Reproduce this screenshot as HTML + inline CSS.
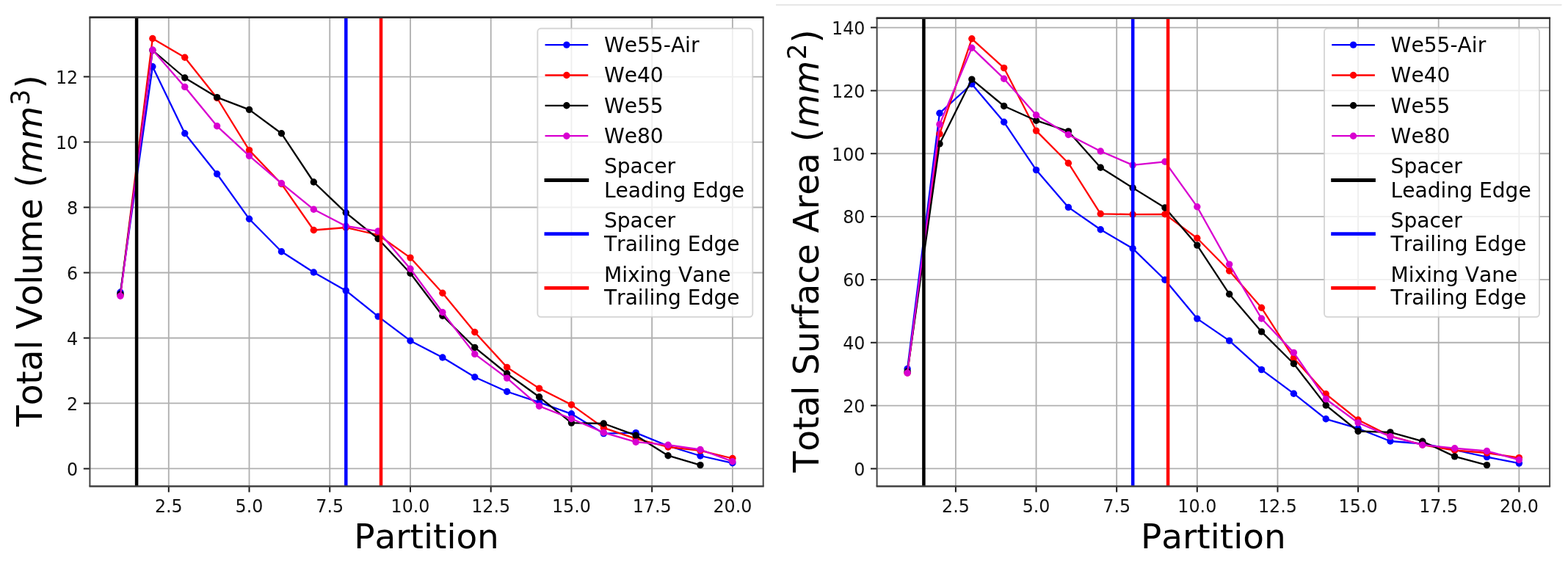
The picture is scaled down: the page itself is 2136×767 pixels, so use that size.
<!DOCTYPE html>
<html lang="en">
<head>
<meta charset="utf-8">
<title>Total Volume and Total Surface Area vs Partition</title>
<style>
html,body{margin:0;padding:0;background:#fff;}
body{width:2136px;height:767px;overflow:hidden;}
svg{display:block;}
text{font-family:"DejaVu Sans", "Liberation Sans", sans-serif;font-kerning:none;font-variant-ligatures:none;}
</style>
</head>
<body>
<svg width="2136" height="767" viewBox="0 0 2136 767" font-family='"DejaVu Sans", "Liberation Sans", sans-serif' role="img" aria-label="Total volume and total surface area versus partition">
<rect width="2136" height="767" fill="#ffffff"/>
<g>
<line x1="1057" y1="6.6" x2="2127.5" y2="6.6" stroke="#e2e2e2" stroke-width="1.6"/>
<clipPath id="clip1"><rect x="122.4" y="23.7" width="917.3" height="638.8"/></clipPath>
<path d="M229.8 23.7V662.5M339.52 23.7V662.5M449.25 23.7V662.5M558.98 23.7V662.5M668.7 23.7V662.5M778.42 23.7V662.5M888.15 23.7V662.5M997.88 23.7V662.5M122.4 638.4H1039.7M122.4 549.43H1039.7M122.4 460.46H1039.7M122.4 371.49H1039.7M122.4 282.52H1039.7M122.4 193.55H1039.7M122.4 104.58H1039.7" fill="none" stroke="#b0b0b0" stroke-width="1.85"/>
<g clip-path="url(#clip1)">
<polyline points="163.97,398.3 207.86,90.8 251.75,181.8 295.63,237 339.52,298.3 383.42,342.7 427.31,371 471.2,395.9 515.09,431.1 558.98,464.2 602.87,487 646.75,513.7 690.64,533.5 734.54,548.1 778.42,563.8 822.32,590.6 866.2,589.6 910.1,607.5 953.99,621 997.88,630.8" fill="none" stroke="#0000ff" stroke-width="2.3" stroke-linejoin="round"/>
<g fill="#0000ff"><circle cx="163.97" cy="398.3" r="4.7"/><circle cx="207.86" cy="90.8" r="4.7"/><circle cx="251.75" cy="181.8" r="4.7"/><circle cx="295.63" cy="237" r="4.7"/><circle cx="339.52" cy="298.3" r="4.7"/><circle cx="383.42" cy="342.7" r="4.7"/><circle cx="427.31" cy="371" r="4.7"/><circle cx="471.2" cy="395.9" r="4.7"/><circle cx="515.09" cy="431.1" r="4.7"/><circle cx="558.98" cy="464.2" r="4.7"/><circle cx="602.87" cy="487" r="4.7"/><circle cx="646.75" cy="513.7" r="4.7"/><circle cx="690.64" cy="533.5" r="4.7"/><circle cx="734.54" cy="548.1" r="4.7"/><circle cx="778.42" cy="563.8" r="4.7"/><circle cx="822.32" cy="590.6" r="4.7"/><circle cx="866.2" cy="589.6" r="4.7"/><circle cx="910.1" cy="607.5" r="4.7"/><circle cx="953.99" cy="621" r="4.7"/><circle cx="997.88" cy="630.8" r="4.7"/></g>
<polyline points="163.97,401.8 207.86,52.5 251.75,78.2 295.63,133.5 339.52,204.6 383.42,250.5 427.31,313.5 471.2,310 515.09,320 558.98,351.1 602.87,399.3 646.75,452.5 690.64,500.4 734.54,529.1 778.42,551.4 822.32,582.9 866.2,597.7 910.1,609 953.99,613.9 997.88,624.5" fill="none" stroke="#ff0000" stroke-width="2.3" stroke-linejoin="round"/>
<g fill="#ff0000"><circle cx="163.97" cy="401.8" r="4.7"/><circle cx="207.86" cy="52.5" r="4.7"/><circle cx="251.75" cy="78.2" r="4.7"/><circle cx="295.63" cy="133.5" r="4.7"/><circle cx="339.52" cy="204.6" r="4.7"/><circle cx="383.42" cy="250.5" r="4.7"/><circle cx="427.31" cy="313.5" r="4.7"/><circle cx="471.2" cy="310" r="4.7"/><circle cx="515.09" cy="320" r="4.7"/><circle cx="558.98" cy="351.1" r="4.7"/><circle cx="602.87" cy="399.3" r="4.7"/><circle cx="646.75" cy="452.5" r="4.7"/><circle cx="690.64" cy="500.4" r="4.7"/><circle cx="734.54" cy="529.1" r="4.7"/><circle cx="778.42" cy="551.4" r="4.7"/><circle cx="822.32" cy="582.9" r="4.7"/><circle cx="866.2" cy="597.7" r="4.7"/><circle cx="910.1" cy="609" r="4.7"/><circle cx="953.99" cy="613.9" r="4.7"/><circle cx="997.88" cy="624.5" r="4.7"/></g>
<polyline points="163.97,400.6 207.86,68.5 251.75,106 295.63,132.6 339.52,149.4 383.42,181.8 427.31,248 471.2,289.8 515.09,325.3 558.98,372.2 602.87,430.2 646.75,473.4 690.64,509 734.54,540.8 778.42,576.1 822.32,577 866.2,593.2 910.1,620.7 953.99,633.6" fill="none" stroke="#000000" stroke-width="2.3" stroke-linejoin="round"/>
<g fill="#000000"><circle cx="163.97" cy="400.6" r="4.7"/><circle cx="207.86" cy="68.5" r="4.7"/><circle cx="251.75" cy="106" r="4.7"/><circle cx="295.63" cy="132.6" r="4.7"/><circle cx="339.52" cy="149.4" r="4.7"/><circle cx="383.42" cy="181.8" r="4.7"/><circle cx="427.31" cy="248" r="4.7"/><circle cx="471.2" cy="289.8" r="4.7"/><circle cx="515.09" cy="325.3" r="4.7"/><circle cx="558.98" cy="372.2" r="4.7"/><circle cx="602.87" cy="430.2" r="4.7"/><circle cx="646.75" cy="473.4" r="4.7"/><circle cx="690.64" cy="509" r="4.7"/><circle cx="734.54" cy="540.8" r="4.7"/><circle cx="778.42" cy="576.1" r="4.7"/><circle cx="822.32" cy="577" r="4.7"/><circle cx="866.2" cy="593.2" r="4.7"/><circle cx="910.1" cy="620.7" r="4.7"/><circle cx="953.99" cy="633.6" r="4.7"/></g>
<polyline points="163.97,403.2 207.86,68 251.75,118.4 295.63,171.8 339.52,212.4 383.42,249.7 427.31,285.3 471.2,308 515.09,314.9 558.98,366.3 602.87,425.5 646.75,482.4 690.64,515.1 734.54,553.3 778.42,570.5 822.32,589.3 866.2,602.2 910.1,606.2 953.99,612.5 997.88,628.7" fill="none" stroke="#d800d0" stroke-width="2.3" stroke-linejoin="round"/>
<g fill="#d800d0"><circle cx="163.97" cy="403.2" r="4.7"/><circle cx="207.86" cy="68" r="4.7"/><circle cx="251.75" cy="118.4" r="4.7"/><circle cx="295.63" cy="171.8" r="4.7"/><circle cx="339.52" cy="212.4" r="4.7"/><circle cx="383.42" cy="249.7" r="4.7"/><circle cx="427.31" cy="285.3" r="4.7"/><circle cx="471.2" cy="308" r="4.7"/><circle cx="515.09" cy="314.9" r="4.7"/><circle cx="558.98" cy="366.3" r="4.7"/><circle cx="602.87" cy="425.5" r="4.7"/><circle cx="646.75" cy="482.4" r="4.7"/><circle cx="690.64" cy="515.1" r="4.7"/><circle cx="734.54" cy="553.3" r="4.7"/><circle cx="778.42" cy="570.5" r="4.7"/><circle cx="822.32" cy="589.3" r="4.7"/><circle cx="866.2" cy="602.2" r="4.7"/><circle cx="910.1" cy="606.2" r="4.7"/><circle cx="953.99" cy="612.5" r="4.7"/><circle cx="997.88" cy="628.7" r="4.7"/></g>
<line x1="186.1" y1="23.7" x2="186.1" y2="662.5" stroke="#000000" stroke-width="4.5"/>
<line x1="471.3" y1="23.7" x2="471.3" y2="662.5" stroke="#0000ff" stroke-width="4.5"/>
<line x1="519" y1="23.7" x2="519" y2="662.5" stroke="#ff0000" stroke-width="4.5"/>
</g>
<path d="M229.8 662.5v8M339.52 662.5v8M449.25 662.5v8M558.98 662.5v8M668.7 662.5v8M778.42 662.5v8M888.15 662.5v8M997.88 662.5v8M122.4 638.4h-8.6M122.4 549.43h-8.6M122.4 460.46h-8.6M122.4 371.49h-8.6M122.4 282.52h-8.6M122.4 193.55h-8.6M122.4 104.58h-8.6" fill="none" stroke="#1a1a1a" stroke-width="2.0"/>
<path d="M122.4 23.7V662.5M1039.7 23.7V662.5" fill="none" stroke="#444444" stroke-width="2.0"/>
<path d="M121.4 23.7H1040.7" fill="none" stroke="#2e2e2e" stroke-width="2.7"/>
<path d="M121.4 662.5H1040.7" fill="none" stroke="#404040" stroke-width="2.3"/>
<g font-size="24.7" fill="#111">
<text transform="translate(229.8 697.6) scale(0.963 1)" text-anchor="middle">2.5</text>
<text transform="translate(339.52 697.6) scale(0.963 1)" text-anchor="middle">5.0</text>
<text transform="translate(449.25 697.6) scale(0.963 1)" text-anchor="middle">7.5</text>
<text transform="translate(558.98 697.6) scale(0.963 1)" text-anchor="middle">10.0</text>
<text transform="translate(668.7 697.6) scale(0.963 1)" text-anchor="middle">12.5</text>
<text transform="translate(778.42 697.6) scale(0.963 1)" text-anchor="middle">15.0</text>
<text transform="translate(888.15 697.6) scale(0.963 1)" text-anchor="middle">17.5</text>
<text transform="translate(997.88 697.6) scale(0.963 1)" text-anchor="middle">20.0</text>
<text transform="translate(106.2 647.8) scale(0.963 1)" text-anchor="end">0</text>
<text transform="translate(106.2 558.83) scale(0.963 1)" text-anchor="end">2</text>
<text transform="translate(106.2 469.86) scale(0.963 1)" text-anchor="end">4</text>
<text transform="translate(106.2 380.89) scale(0.963 1)" text-anchor="end">6</text>
<text transform="translate(106.2 291.92) scale(0.963 1)" text-anchor="end">8</text>
<text transform="translate(106.2 202.95) scale(0.963 1)" text-anchor="end">10</text>
<text transform="translate(106.2 113.98) scale(0.963 1)" text-anchor="end">12</text>
</g>
<text transform="translate(581.05 746.6) scale(1.02 1)" text-anchor="middle" font-size="46">Partition</text>
<text transform="translate(56.5 581) rotate(-90) scale(1.0205 1.05)" font-size="46"><tspan x="0">Total Volume (</tspan><tspan x="337.78" font-style="italic">mm</tspan><tspan x="428.71" dy="-16" font-size="33.58">3</tspan><tspan x="451.15" dy="16">)</tspan></text>
<rect x="732.3" y="38.8" width="293" height="393" rx="4.5" fill="#ffffff" fill-opacity="0.8" stroke="#cccccc" stroke-opacity="0.8" stroke-width="1.9"/>
<line x1="742.5" y1="61.1" x2="801.2" y2="61.1" stroke="#0000ff" stroke-width="2.3"/>
<circle cx="771.85" cy="61.1" r="4.7" fill="#0000ff"/>
<line x1="742.5" y1="102.5" x2="801.2" y2="102.5" stroke="#ff0000" stroke-width="2.3"/>
<circle cx="771.85" cy="102.5" r="4.7" fill="#ff0000"/>
<line x1="742.5" y1="143.8" x2="801.2" y2="143.8" stroke="#000000" stroke-width="2.3"/>
<circle cx="771.85" cy="143.8" r="4.7" fill="#000000"/>
<line x1="742.5" y1="185.2" x2="801.2" y2="185.2" stroke="#d800d0" stroke-width="2.3"/>
<circle cx="771.85" cy="185.2" r="4.7" fill="#d800d0"/>
<line x1="741.5" y1="245.5" x2="802.2" y2="245.5" stroke="#000000" stroke-width="4.8"/>
<line x1="741.5" y1="318.6" x2="802.2" y2="318.6" stroke="#0000ff" stroke-width="4.8"/>
<line x1="741.5" y1="392.3" x2="802.2" y2="392.3" stroke="#ff0000" stroke-width="4.8"/>
<g font-size="28.4" fill="#000">
<text transform="translate(822.9 71) scale(0.99 1)">We55-Air</text>
<text transform="translate(822.9 112.4) scale(0.99 1)">We40</text>
<text transform="translate(822.9 153.7) scale(0.99 1)">We55</text>
<text transform="translate(822.9 195.1) scale(0.99 1)">We80</text>
<text transform="translate(822.9 236.2) scale(0.99 1)">Spacer</text>
<text transform="translate(822.9 268.8) scale(0.99 1)">Leading Edge</text>
<text transform="translate(822.9 310.4) scale(0.99 1)">Spacer</text>
<text transform="translate(822.9 342.3) scale(0.99 1)">Trailing Edge</text>
<text transform="translate(822.9 383.8) scale(0.99 1)">Mixing Vane</text>
<text transform="translate(822.9 414.9) scale(0.99 1)">Trailing Edge</text>
</g>
<clipPath id="clip2"><rect x="1194.6" y="24.6" width="916.5" height="637.9"/></clipPath>
<path d="M1301.9 24.6V662.5M1411.54 24.6V662.5M1521.17 24.6V662.5M1630.81 24.6V662.5M1740.44 24.6V662.5M1850.08 24.6V662.5M1959.71 24.6V662.5M2069.35 24.6V662.5M1194.6 638.4H2111.1M1194.6 552.57H2111.1M1194.6 466.74H2111.1M1194.6 380.92H2111.1M1194.6 295.09H2111.1M1194.6 209.26H2111.1M1194.6 123.43H2111.1M1194.6 37.6H2111.1" fill="none" stroke="#b0b0b0" stroke-width="1.85"/>
<g clip-path="url(#clip2)">
<polyline points="1236.12,502.5 1279.97,154.2 1323.83,114.5 1367.68,166.3 1411.54,231.6 1455.39,282.4 1499.24,312.7 1543.1,338.6 1586.95,381.3 1630.81,434.1 1674.66,464.1 1718.51,503.6 1762.37,536.2 1806.22,570.8 1850.08,583.7 1893.93,601 1937.78,604.5 1981.64,613 2025.49,622.6 2069.35,631.1" fill="none" stroke="#0000ff" stroke-width="2.3" stroke-linejoin="round"/>
<g fill="#0000ff"><circle cx="1236.12" cy="502.5" r="4.7"/><circle cx="1279.97" cy="154.2" r="4.7"/><circle cx="1323.83" cy="114.5" r="4.7"/><circle cx="1367.68" cy="166.3" r="4.7"/><circle cx="1411.54" cy="231.6" r="4.7"/><circle cx="1455.39" cy="282.4" r="4.7"/><circle cx="1499.24" cy="312.7" r="4.7"/><circle cx="1543.1" cy="338.6" r="4.7"/><circle cx="1586.95" cy="381.3" r="4.7"/><circle cx="1630.81" cy="434.1" r="4.7"/><circle cx="1674.66" cy="464.1" r="4.7"/><circle cx="1718.51" cy="503.6" r="4.7"/><circle cx="1762.37" cy="536.2" r="4.7"/><circle cx="1806.22" cy="570.8" r="4.7"/><circle cx="1850.08" cy="583.7" r="4.7"/><circle cx="1893.93" cy="601" r="4.7"/><circle cx="1937.78" cy="604.5" r="4.7"/><circle cx="1981.64" cy="613" r="4.7"/><circle cx="2025.49" cy="622.6" r="4.7"/><circle cx="2069.35" cy="631.1" r="4.7"/></g>
<polyline points="1236.12,508 1279.97,182.4 1323.83,52.8 1367.68,92.6 1411.54,178.1 1455.39,222.2 1499.24,291.3 1543.1,292.1 1586.95,291.8 1630.81,324.5 1674.66,369 1718.51,419.3 1762.37,487.7 1806.22,536.8 1850.08,572 1893.93,594 1937.78,606 1981.64,613.5 2025.49,617 2069.35,623.6" fill="none" stroke="#ff0000" stroke-width="2.3" stroke-linejoin="round"/>
<g fill="#ff0000"><circle cx="1236.12" cy="508" r="4.7"/><circle cx="1279.97" cy="182.4" r="4.7"/><circle cx="1323.83" cy="52.8" r="4.7"/><circle cx="1367.68" cy="92.6" r="4.7"/><circle cx="1411.54" cy="178.1" r="4.7"/><circle cx="1455.39" cy="222.2" r="4.7"/><circle cx="1499.24" cy="291.3" r="4.7"/><circle cx="1543.1" cy="292.1" r="4.7"/><circle cx="1586.95" cy="291.8" r="4.7"/><circle cx="1630.81" cy="324.5" r="4.7"/><circle cx="1674.66" cy="369" r="4.7"/><circle cx="1718.51" cy="419.3" r="4.7"/><circle cx="1762.37" cy="487.7" r="4.7"/><circle cx="1806.22" cy="536.8" r="4.7"/><circle cx="1850.08" cy="572" r="4.7"/><circle cx="1893.93" cy="594" r="4.7"/><circle cx="1937.78" cy="606" r="4.7"/><circle cx="1981.64" cy="613.5" r="4.7"/><circle cx="2025.49" cy="617" r="4.7"/><circle cx="2069.35" cy="623.6" r="4.7"/></g>
<polyline points="1236.12,506 1279.97,195.9 1323.83,108.1 1367.68,144.5 1411.54,164.2 1455.39,178.9 1499.24,228.2 1543.1,255.9 1586.95,283 1630.81,334.1 1674.66,400.7 1718.51,451.9 1762.37,495.5 1806.22,552.1 1850.08,587.5 1893.93,588.9 1937.78,601.2 1981.64,621.9 2025.49,633.6" fill="none" stroke="#000000" stroke-width="2.3" stroke-linejoin="round"/>
<g fill="#000000"><circle cx="1236.12" cy="506" r="4.7"/><circle cx="1279.97" cy="195.9" r="4.7"/><circle cx="1323.83" cy="108.1" r="4.7"/><circle cx="1367.68" cy="144.5" r="4.7"/><circle cx="1411.54" cy="164.2" r="4.7"/><circle cx="1455.39" cy="178.9" r="4.7"/><circle cx="1499.24" cy="228.2" r="4.7"/><circle cx="1543.1" cy="255.9" r="4.7"/><circle cx="1586.95" cy="283" r="4.7"/><circle cx="1630.81" cy="334.1" r="4.7"/><circle cx="1674.66" cy="400.7" r="4.7"/><circle cx="1718.51" cy="451.9" r="4.7"/><circle cx="1762.37" cy="495.5" r="4.7"/><circle cx="1806.22" cy="552.1" r="4.7"/><circle cx="1850.08" cy="587.5" r="4.7"/><circle cx="1893.93" cy="588.9" r="4.7"/><circle cx="1937.78" cy="601.2" r="4.7"/><circle cx="1981.64" cy="621.9" r="4.7"/><circle cx="2025.49" cy="633.6" r="4.7"/></g>
<polyline points="1236.12,508.1 1279.97,169.4 1323.83,65.2 1367.68,107.2 1411.54,156.7 1455.39,183.5 1499.24,206 1543.1,224.9 1586.95,220.3 1630.81,281.7 1674.66,360.1 1718.51,434 1762.37,480.4 1806.22,543.7 1850.08,576 1893.93,594.6 1937.78,606.1 1981.64,610.7 2025.49,614.5 2069.35,626.5" fill="none" stroke="#d800d0" stroke-width="2.3" stroke-linejoin="round"/>
<g fill="#d800d0"><circle cx="1236.12" cy="508.1" r="4.7"/><circle cx="1279.97" cy="169.4" r="4.7"/><circle cx="1323.83" cy="65.2" r="4.7"/><circle cx="1367.68" cy="107.2" r="4.7"/><circle cx="1411.54" cy="156.7" r="4.7"/><circle cx="1455.39" cy="183.5" r="4.7"/><circle cx="1499.24" cy="206" r="4.7"/><circle cx="1543.1" cy="224.9" r="4.7"/><circle cx="1586.95" cy="220.3" r="4.7"/><circle cx="1630.81" cy="281.7" r="4.7"/><circle cx="1674.66" cy="360.1" r="4.7"/><circle cx="1718.51" cy="434" r="4.7"/><circle cx="1762.37" cy="480.4" r="4.7"/><circle cx="1806.22" cy="543.7" r="4.7"/><circle cx="1850.08" cy="576" r="4.7"/><circle cx="1893.93" cy="594.6" r="4.7"/><circle cx="1937.78" cy="606.1" r="4.7"/><circle cx="1981.64" cy="610.7" r="4.7"/><circle cx="2025.49" cy="614.5" r="4.7"/><circle cx="2069.35" cy="626.5" r="4.7"/></g>
<line x1="1258.4" y1="24.6" x2="1258.4" y2="662.5" stroke="#000000" stroke-width="4.5"/>
<line x1="1543.2" y1="24.6" x2="1543.2" y2="662.5" stroke="#0000ff" stroke-width="4.5"/>
<line x1="1591.1" y1="24.6" x2="1591.1" y2="662.5" stroke="#ff0000" stroke-width="4.5"/>
</g>
<path d="M1301.9 662.5v8M1411.54 662.5v8M1521.17 662.5v8M1630.81 662.5v8M1740.44 662.5v8M1850.08 662.5v8M1959.71 662.5v8M2069.35 662.5v8M1194.6 638.4h-8.6M1194.6 552.57h-8.6M1194.6 466.74h-8.6M1194.6 380.92h-8.6M1194.6 295.09h-8.6M1194.6 209.26h-8.6M1194.6 123.43h-8.6M1194.6 37.6h-8.6" fill="none" stroke="#1a1a1a" stroke-width="2.0"/>
<path d="M1194.6 24.6V662.5M2111.1 24.6V662.5" fill="none" stroke="#444444" stroke-width="2.0"/>
<path d="M1193.6 24.6H2112.1" fill="none" stroke="#2e2e2e" stroke-width="2.7"/>
<path d="M1193.6 662.5H2112.1" fill="none" stroke="#404040" stroke-width="2.3"/>
<g font-size="24.7" fill="#111">
<text transform="translate(1301.9 697.6) scale(0.963 1)" text-anchor="middle">2.5</text>
<text transform="translate(1411.54 697.6) scale(0.963 1)" text-anchor="middle">5.0</text>
<text transform="translate(1521.17 697.6) scale(0.963 1)" text-anchor="middle">7.5</text>
<text transform="translate(1630.81 697.6) scale(0.963 1)" text-anchor="middle">10.0</text>
<text transform="translate(1740.44 697.6) scale(0.963 1)" text-anchor="middle">12.5</text>
<text transform="translate(1850.08 697.6) scale(0.963 1)" text-anchor="middle">15.0</text>
<text transform="translate(1959.71 697.6) scale(0.963 1)" text-anchor="middle">17.5</text>
<text transform="translate(2069.35 697.6) scale(0.963 1)" text-anchor="middle">20.0</text>
<text transform="translate(1178.4 647.8) scale(0.963 1)" text-anchor="end">0</text>
<text transform="translate(1178.4 561.97) scale(0.963 1)" text-anchor="end">20</text>
<text transform="translate(1178.4 476.14) scale(0.963 1)" text-anchor="end">40</text>
<text transform="translate(1178.4 390.32) scale(0.963 1)" text-anchor="end">60</text>
<text transform="translate(1178.4 304.49) scale(0.963 1)" text-anchor="end">80</text>
<text transform="translate(1178.4 218.66) scale(0.963 1)" text-anchor="end">100</text>
<text transform="translate(1178.4 132.83) scale(0.963 1)" text-anchor="end">120</text>
<text transform="translate(1178.4 47) scale(0.963 1)" text-anchor="end">140</text>
</g>
<text transform="translate(1652.85 746.6) scale(1.02 1)" text-anchor="middle" font-size="46">Partition</text>
<text transform="translate(1114.5 643.4) rotate(-90) scale(1.0205 1.05)" font-size="46"><tspan x="0">Total Surface Area (</tspan><tspan x="459.87" font-style="italic">mm</tspan><tspan x="550.81" dy="-16" font-size="33.58">2</tspan><tspan x="573.25" dy="16">)</tspan></text>
<rect x="1804" y="38.8" width="293" height="393" rx="4.5" fill="#ffffff" fill-opacity="0.8" stroke="#cccccc" stroke-opacity="0.8" stroke-width="1.9"/>
<line x1="1814.2" y1="61.1" x2="1872.9" y2="61.1" stroke="#0000ff" stroke-width="2.3"/>
<circle cx="1843.55" cy="61.1" r="4.7" fill="#0000ff"/>
<line x1="1814.2" y1="102.5" x2="1872.9" y2="102.5" stroke="#ff0000" stroke-width="2.3"/>
<circle cx="1843.55" cy="102.5" r="4.7" fill="#ff0000"/>
<line x1="1814.2" y1="143.8" x2="1872.9" y2="143.8" stroke="#000000" stroke-width="2.3"/>
<circle cx="1843.55" cy="143.8" r="4.7" fill="#000000"/>
<line x1="1814.2" y1="185.2" x2="1872.9" y2="185.2" stroke="#d800d0" stroke-width="2.3"/>
<circle cx="1843.55" cy="185.2" r="4.7" fill="#d800d0"/>
<line x1="1813.2" y1="245.5" x2="1873.9" y2="245.5" stroke="#000000" stroke-width="4.8"/>
<line x1="1813.2" y1="318.6" x2="1873.9" y2="318.6" stroke="#0000ff" stroke-width="4.8"/>
<line x1="1813.2" y1="392.3" x2="1873.9" y2="392.3" stroke="#ff0000" stroke-width="4.8"/>
<g font-size="28.4" fill="#000">
<text transform="translate(1894.6 71) scale(0.99 1)">We55-Air</text>
<text transform="translate(1894.6 112.4) scale(0.99 1)">We40</text>
<text transform="translate(1894.6 153.7) scale(0.99 1)">We55</text>
<text transform="translate(1894.6 195.1) scale(0.99 1)">We80</text>
<text transform="translate(1894.6 236.2) scale(0.99 1)">Spacer</text>
<text transform="translate(1894.6 268.8) scale(0.99 1)">Leading Edge</text>
<text transform="translate(1894.6 310.4) scale(0.99 1)">Spacer</text>
<text transform="translate(1894.6 342.3) scale(0.99 1)">Trailing Edge</text>
<text transform="translate(1894.6 383.8) scale(0.99 1)">Mixing Vane</text>
<text transform="translate(1894.6 414.9) scale(0.99 1)">Trailing Edge</text>
</g>
</g>
</svg>
</body>
</html>
